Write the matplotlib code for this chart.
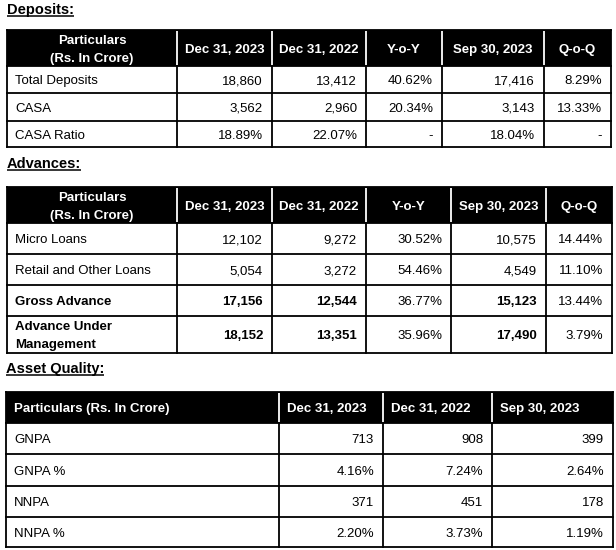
import matplotlib
matplotlib.use("Agg")
import matplotlib.pyplot as plt
from matplotlib.patches import Rectangle

plt.rcParams['font.family'] = ['Liberation Sans', 'DejaVu Sans']

# ---------------- data ----------------
dep_title = "Deposits:"
dep_header = ["Particulars\n(Rs. In Crore)", "Dec 31, 2023", "Dec 31, 2022", "Y-o-Y", "Sep 30, 2023", "Q-o-Q"]
dep_particulars = ["Total Deposits", "CASA", "CASA Ratio"]
dep_dec23 = ["18,860", "3,562", "18.89%"]
dep_dec22 = ["13,412", "2,960", "22.07%"]
dep_yoy = ["40.62%", "20.34%", "-"]
dep_sep23 = ["17,416", "3,143", "18.04%"]
dep_qoq = ["8.29%", "13.33%", "-"]

adv_title = "Advances:"
adv_header = ["Particulars\n(Rs. In Crore)", "Dec 31, 2023", "Dec 31, 2022", "Y-o-Y", "Sep 30, 2023", "Q-o-Q"]
adv_particulars = ["Micro Loans", "Retail and Other Loans", "Gross Advance", "Advance Under\nManagement"]
adv_dec23 = ["12,102", "5,054", "17,156", "18,152"]
adv_dec22 = ["9,272", "3,272", "12,544", "13,351"]
adv_yoy = ["30.52%", "54.46%", "36.77%", "35.96%"]
adv_sep23 = ["10,575", "4,549", "15,123", "17,490"]
adv_qoq = ["14.44%", "11.10%", "13.44%", "3.79%"]
adv_bold_rows = [False, False, True, True]

aq_title = "Asset Quality:"
aq_header = ["Particulars (Rs. In Crore)", "Dec 31, 2023", "Dec 31, 2022", "Sep 30, 2023"]
aq_particulars = ["GNPA", "GNPA %", "NNPA", "NNPA %"]
aq_dec23 = ["713", "4.16%", "371", "2.20%"]
aq_dec22 = ["908", "7.24%", "451", "3.73%"]
aq_sep23 = ["399", "2.64%", "178", "1.19%"]

# ---------------- layout ----------------
W, H = 616, 550
fig = plt.figure(figsize=(W / 100, H / 100), dpi=100)
ax = fig.add_axes([0, 0, 1, 1])
ax.set_xlim(0, W)
ax.set_ylim(H, 0)
ax.axis('off')

FS = 9.5          # points
TFS = 10.5
PAD = 8
LW = 1.3
LINE_GAP = 18     # px between lines of two-line cells
CAP = 0.716 * FS * 100 / 72   # cap height in px


def put_text(x, yc, s, ha='left', color='black', bold=False, fs=FS):
    """Place (possibly multi-line) text with cap-height centred on yc."""
    lines = s.split('\n')
    n = len(lines)
    cap = 0.716 * fs * 100 / 72
    for k, ln in enumerate(lines):
        ycl = yc + (k - (n - 1) / 2) * LINE_GAP
        ax.text(x, ycl + cap / 2, ln, fontsize=fs, color=color,
                fontweight='bold' if bold else 'normal',
                ha=ha, va='baseline', zorder=3)


def draw_title(text, x, baseline):
    return ax.text(x, baseline, text, fontsize=TFS, fontweight='bold',
                   ha='left', va='baseline', color='black')


def draw_table(xe, ye, header, columns, bold_rows=None, bold_cols=None,
               header_align='center'):
    nrows = len(columns[0])
    ax.add_patch(Rectangle((xe[0], ye[0]), xe[-1] - xe[0], ye[1] - ye[0],
                           facecolor='black', edgecolor='none', zorder=1))
    for x in xe[1:-1]:
        ax.plot([x, x], [ye[0] + 1, ye[1]], color='white', lw=LW, zorder=2,
                solid_capstyle='butt')
    for x in xe:
        ax.plot([x, x], [ye[1], ye[-1]], color='black', lw=LW, zorder=2,
                solid_capstyle='projecting')
    for y in ye[1:]:
        ax.plot([xe[0], xe[-1]], [y, y], color='black', lw=LW, zorder=2,
                solid_capstyle='projecting')
    ax.plot([xe[0], xe[-1]], [ye[0], ye[0]], color='black', lw=LW, zorder=2,
            solid_capstyle='projecting')
    for x in (xe[0], xe[-1]):
        ax.plot([x, x], [ye[0], ye[1]], color='black', lw=LW, zorder=2,
                solid_capstyle='projecting')

    yc = (ye[0] + ye[1]) / 2
    for j, h in enumerate(header):
        if header_align == 'center':
            put_text((xe[j] + xe[j + 1]) / 2, yc, h, ha='center', color='white', bold=True)
        else:
            put_text(xe[j] + PAD, yc, h, ha='left', color='white', bold=True)

    for i in range(nrows):
        yc = (ye[i + 1] + ye[i + 2]) / 2
        for j, col in enumerate(columns):
            bold = bool(bold_rows and bold_rows[i] and (bold_cols is None or j in bold_cols))
            if j == 0:
                put_text(xe[0] + PAD, yc, col[i], ha='left', bold=bold)
            else:
                put_text(xe[j + 1] - PAD - 1, yc, col[i], ha='right', bold=bold)


# Deposits
t1 = draw_title(dep_title, 7, 14)
draw_table([7, 177, 272, 366, 442, 544, 611],
           [30, 66, 93, 121, 147],
           dep_header,
           [dep_particulars, dep_dec23, dep_dec22, dep_yoy, dep_sep23, dep_qoq])

# Advances
t2 = draw_title(adv_title, 7, 168)
draw_table([7, 177, 272, 366, 451, 546, 612],
           [187, 223, 254, 285, 316, 353],
           adv_header,
           [adv_particulars, adv_dec23, adv_dec22, adv_yoy, adv_sep23, adv_qoq],
           bold_rows=adv_bold_rows, bold_cols={0, 1, 2, 4})

# Asset quality
t3 = draw_title(aq_title, 6, 372.5)
draw_table([6, 279, 383, 492, 613],
           [392, 423, 454, 486, 517, 547],
           aq_header,
           [aq_particulars, aq_dec23, aq_dec22, aq_sep23],
           header_align='left')

# underline titles
fig.canvas.draw()
renderer = fig.canvas.get_renderer()
inv = ax.transData.inverted()
for t, base in ((t1, 14), (t2, 168), (t3, 372.5)):
    bb = t.get_window_extent(renderer)
    (x0, _), (x1, _) = inv.transform([[bb.x0, bb.y0], [bb.x1, bb.y1]])
    ax.plot([x0, x1], [base + 2, base + 2], color='black', lw=1.1,
            solid_capstyle='butt')

fig.savefig("out.png", dpi=100, facecolor='white')
